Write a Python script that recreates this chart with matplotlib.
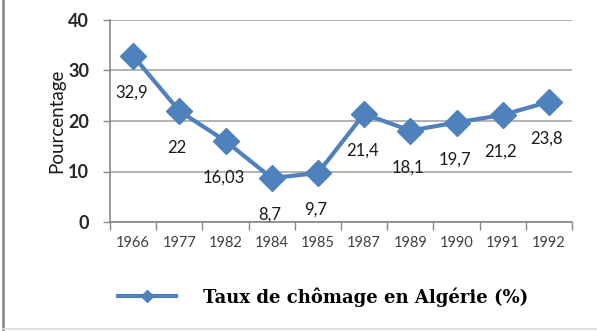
import matplotlib
matplotlib.use("Agg")
import matplotlib.pyplot as plt
from matplotlib.lines import Line2D
import numpy as np

years = ["1966", "1977", "1982", "1984", "1985", "1987", "1989", "1990", "1991", "1992"]
taux = [32.9, 22, 16.03, 8.7, 9.7, 21.4, 18.1, 19.7, 21.2, 23.8]
labels = ["32,9", "22", "16,03", "8,7", "9,7", "21,4", "18,1", "19,7", "21,2", "23,8"]
y_ticks = [0, 10, 20, 30, 40]

blue = "#4F81BD"
axis_gray = "#868686"
grid_gray = "#A6A6A6"

fig = plt.figure(figsize=(5.97, 3.31), dpi=100)
fig.patch.set_facecolor("white")
ax = fig.add_axes([110 / 597, 1 - 222 / 331, 462 / 597, 202 / 331])

x = np.arange(len(years))
ax.plot(x, taux, color=blue, lw=3.0, marker="D", markersize=13,
        markerfacecolor=blue, markeredgecolor=blue, zorder=3)

for xi, yi, lab in zip(x, taux, labels):
    ax.annotate(lab, (xi, yi), xytext=(-2, -37), textcoords="offset pixels",
                ha="center", va="center", fontsize=12, family="Lato",
                color="#1a1a1a", zorder=4)

ax.set_xlim(-0.5, len(years) - 0.5)
ax.set_ylim(0, 40)
ax.set_yticks(y_ticks)
ax.set_yticklabels([str(v) for v in y_ticks], fontsize=13, family="Lato",
                   fontweight="bold", color="#262626")
ax.set_xticks(x)
ax.set_xticklabels(years, fontsize=10.5, family="Lato", color="#404040")
ax.set_xticks(np.arange(-0.5, len(years)), minor=True)
ax.tick_params(axis="x", which="major", length=0, pad=10)
ax.tick_params(axis="x", which="minor", length=6, width=1, color=axis_gray)
ax.tick_params(axis="y", length=5, width=1, color=axis_gray, pad=10)

ax.yaxis.grid(True, color=grid_gray, lw=1.2)
ax.set_axisbelow(True)
for side in ("top", "right"):
    ax.spines[side].set_visible(False)
for side in ("left", "bottom"):
    ax.spines[side].set_color(axis_gray)
    ax.spines[side].set_linewidth(1.2)

ax.set_ylabel("Pourcentage", fontsize=13.5, family="Lato", color="#1a1a1a", labelpad=2)

handle = Line2D([], [], color=blue, lw=3.0, marker="D", markersize=6,
                markerfacecolor=blue, markeredgecolor=blue)
fig.legend([handle], ["Taux de chômage en Algérie (%)"], loc="center",
           bbox_to_anchor=(323 / 597, 1 - 297 / 331), frameon=False,
           handlelength=3.2, handletextpad=1.5,
           prop={"family": "DejaVu Serif", "weight": "bold", "size": 13})

# outer frame: left and bottom edges
fig.add_artist(Line2D([3 / 597, 3 / 597], [0, 1], transform=fig.transFigure,
                      color="#8C8C8C", lw=2))
fig.add_artist(Line2D([3 / 597, 1], [2 / 331, 2 / 331], transform=fig.transFigure,
                      color="#D9D9D9", lw=1.2))

fig.savefig("out.png", dpi=100)
